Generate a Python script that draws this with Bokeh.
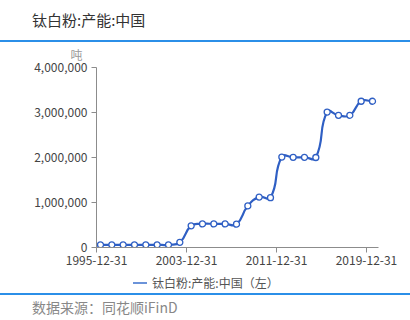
from bokeh.plotting import figure
from bokeh.models import (Range1d, FixedTicker, NumeralTickFormatter, Div, Title,
                          ColumnDataSource)
from bokeh.layouts import column
from bokeh.embed import file_html
from bokeh.resources import INLINE

# ---- data ----
title_text = "钛白粉:产能:中国"
series_name = "钛白粉:产能:中国（左）"
unit = "吨"
source_text = "数据来源：同花顺iFinD"
years = list(range(1996, 2021))
capacity = [60000, 60000, 60000, 60000, 60000, 60000, 60000, 115000,
            482000, 525000, 525000, 525000, 518000, 925000, 1120000, 1108000,
            2010000, 2003000, 2003000, 2000000, 3010000, 2938000, 2938000,
            3250000, 3250000]
tick_labels = ["1995-12-31", "2003-12-31", "2011-12-31", "2019-12-31"]
tick_pos = [1995.65, 2003.59, 2011.53, 2019.47]
y_ticks = [0, 1000000, 2000000, 3000000, 4000000]

FONT = "Noto Sans CJK SC"
BLUE = "#2f5fc4"
LEG_BLUE = "#6b93d9"

W = 410
FH = 230
BL, BR, BT, BB = 96, 32, 25, 25
x0, x1 = 1995.647, 2020.53
y0, y1 = 0, 4000000
frame_w = W - BL - BR
frame_h = FH - BT - BB
sx = frame_w / (x1 - x0)
sy = frame_h / (y1 - y0)

p = figure(width=W, height=FH, output_backend="svg", toolbar_location=None,
           x_range=Range1d(x0, x1), y_range=Range1d(y0, y1),
           min_border_left=BL, min_border_right=BR, min_border_top=BT,
           min_border_bottom=BB, outline_line_color=None,
           background_fill_color="white", border_fill_color="white")
p.xgrid.visible = False
p.ygrid.visible = False

# smooth curve (echarts-like bezier smoothing) computed in screen space
n = len(years)
px = [(x - x0) * sx for x in years]
py = [(v - y0) * sy for v in capacity]
cp0 = []
cp1 = []
sm = 0.5
for i in range(n):
    pxp, pyp = (px[i - 1], py[i - 1]) if i > 0 else (px[i], py[i])
    pxn, pyn = (px[i + 1], py[i + 1]) if i < n - 1 else (px[i], py[i])
    vx, vy = pxn - pxp, pyn - pyp
    d0 = ((px[i] - pxp) ** 2 + (py[i] - pyp) ** 2) ** 0.5
    d1 = ((pxn - px[i]) ** 2 + (pyn - py[i]) ** 2) ** 0.5
    s = d0 + d1
    r0 = d0 / s if s else 0
    r1 = d1 / s if s else 0
    cp0.append((px[i] - vx * sm * r0, py[i] - vy * sm * r0))
    cp1.append((px[i] + vx * sm * r1, py[i] + vy * sm * r1))

bz = dict(x0=[], y0=[], x1=[], y1=[], cx0=[], cy0=[], cx1=[], cy1=[])
for i in range(n - 1):
    bz["x0"].append(years[i]); bz["y0"].append(capacity[i])
    bz["x1"].append(years[i + 1]); bz["y1"].append(capacity[i + 1])
    bz["cx0"].append(cp1[i][0] / sx + x0); bz["cy0"].append(cp1[i][1] / sy + y0)
    bz["cx1"].append(cp0[i + 1][0] / sx + x0); bz["cy1"].append(cp0[i + 1][1] / sy + y0)
p.bezier(x0="x0", y0="y0", x1="x1", y1="y1", cx0="cx0", cy0="cy0", cx1="cx1",
         cy1="cy1", source=ColumnDataSource(bz), line_color=BLUE, line_width=2.2)

p.scatter(years, capacity, size=6, fill_color="white", line_color=BLUE,
          line_width=1.3)

# axes
for ax in (p.xaxis[0], p.yaxis[0]):
    ax.axis_line_color = "#8c8c8c"
    ax.major_tick_line_color = "#8c8c8c"
    ax.minor_tick_line_color = None
    ax.major_tick_in = 0
    ax.major_tick_out = 5
    ax.major_label_text_font = FONT
    ax.major_label_text_font_size = "12px"
    ax.major_label_text_color = "#444444"
p.xaxis[0].ticker = FixedTicker(ticks=tick_pos)
p.xaxis[0].major_label_overrides = {t: l for t, l in zip(tick_pos, tick_labels)}
p.xaxis[0].major_label_standoff = 3
p.yaxis[0].ticker = FixedTicker(ticks=y_ticks)
p.yaxis[0].formatter = NumeralTickFormatter(format="0,0")
p.yaxis[0].major_label_standoff = 4

p.add_layout(Title(text=unit, align="left", offset=-26, text_font=FONT,
                   text_font_size="12px", text_color="#999999",
                   text_font_style="normal", standoff=6, vertical_align="top"),
             "above")

title = Div(text=f'<div style="font-family:\'{FONT}\';font-size:15px;line-height:40px;'
                 f'padding-left:32px;color:#333333;white-space:nowrap">{title_text}</div>',
            width=W, height=40, margin=0)
line1 = Div(text="", width=W, height=2, margin=0, styles={"background-color": "#2b8fe8"})
legend = Div(text=f'<div style="font-family:\'{FONT}\';font-size:12px;line-height:22px;'
                  f'height:21px;white-space:nowrap;color:#555555;display:flex;align-items:center">'
                  f'<span style="display:inline-block;margin-left:133px;width:14px;height:2px;'
                  f'background:{LEG_BLUE}"></span>'
                  f'<span style="margin-left:5px">{series_name}</span></div>',
             width=W, height=21, margin=0)
line2 = Div(text="", width=W, height=2, margin=0, styles={"background-color": "#2b8fe8"})
footer = Div(text=f'<div style="font-family:\'{FONT}\';font-size:14px;line-height:24px;'
                  f'padding-left:32px;color:#888888;white-space:nowrap">{source_text}</div>',
             width=W, height=25, margin=0)
p.margin = 0
lay = column(title, line1, p, legend, line2, footer, spacing=0, margin=0)

open("out.html", "w").write(file_html(lay, INLINE))
